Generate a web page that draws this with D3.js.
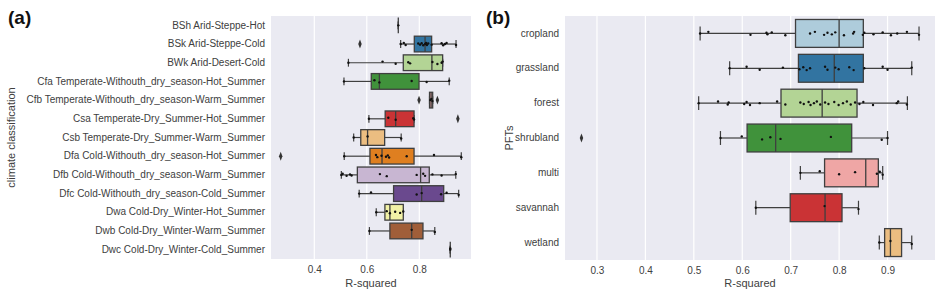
<!DOCTYPE html>
<html>
<head>
<meta charset="utf-8">
<script src="https://cdn.jsdelivr.net/npm/d3@7"></script>
<style>
  body { margin: 0; background: #fff; }
  svg { font-family: 'Liberation Sans', Arial, sans-serif; }
</style>
</head>
<body>
<svg id="chart" width="945" height="299"></svg>
<script>
// Panel (a): climate classification
const climateNames = [
  'BSh Arid-Steppe-Hot', 'BSk Arid-Steppe-Cold', 'BWk Arid-Desert-Cold',
  'Cfa Temperate-Withouth_dry_season-Hot_Summer', 'Cfb Temperate-Withouth_dry_season-Warm_Summer',
  'Csa Temperate-Dry_Summer-Hot_Summer', 'Csb Temperate-Dry_Summer-Warm_Summer',
  'Dfa Cold-Withouth_dry_season-Hot_Summer', 'Dfb Cold-Withouth_dry_season-Warm_Summer',
  'Dfc Cold-Withouth_dry_season-Cold_Summer', 'Dwa Cold-Dry_Winter-Hot_Summer',
  'Dwb Cold-Dry_Winter-Warm_Summer', 'Dwc Cold-Dry_Winter-Cold_Summer'
];
const climateQ1 = [0.72, 0.781, 0.739, 0.617, 0.839, 0.67, 0.577, 0.612, 0.564, 0.702, 0.669, 0.688, 0.918];
const climateMedian = [0.72, 0.822, 0.848, 0.648, 0.845, 0.71, 0.603, 0.658, 0.805, 0.809, 0.688, 0.771, 0.918];
const climateQ3 = [0.72, 0.847, 0.889, 0.799, 0.851, 0.78, 0.668, 0.78, 0.838, 0.893, 0.739, 0.814, 0.918];
const climateLo = [0.72, 0.729, 0.53, 0.513, 0.839, 0.608, 0.55, 0.514, 0.503, 0.571, 0.636, 0.61, 0.918];
const climateHi = [0.72, 0.94, 0.889, 0.914, 0.851, 0.78, 0.731, 0.96, 0.939, 0.95, 0.739, 0.859, 0.918];
const climateOutliers = [[], [0.574], [], [], [0.799, 0.869], [0.947], [], [0.272], [], [], [], [], []];
const climatePoints = [
  [0.72],
  [0.729, 0.741, 0.748, 0.796, 0.803, 0.809, 0.815, 0.822, 0.826, 0.829, 0.834, 0.847, 0.885, 0.891, 0.898, 0.904, 0.94],
  [0.53, 0.66, 0.71, 0.758, 0.765, 0.85, 0.869, 0.885, 0.889],
  [0.513, 0.629, 0.648, 0.771, 0.828, 0.914],
  [0.842, 0.846, 0.85],
  [0.608, 0.682, 0.71, 0.777, 0.78],
  [0.55, 0.603, 0.731],
  [0.514, 0.635, 0.64, 0.656, 0.673, 0.68, 0.685, 0.752, 0.856, 0.96],
  [0.503, 0.508, 0.523, 0.536, 0.542, 0.65, 0.676, 0.79, 0.815, 0.822, 0.85, 0.885, 0.939],
  [0.571, 0.616, 0.79, 0.809, 0.883, 0.904, 0.95],
  [0.636, 0.676, 0.688, 0.708, 0.727, 0.739],
  [0.61, 0.771, 0.859],
  [0.918, 0.918]
];
const climateTicks = [0.4, 0.6, 0.8];

// Panel (b): PFTs
const pftNames = ['cropland', 'grassland', 'forest', 'shrubland', 'multi', 'savannah', 'wetland'];
const pftQ1 = [0.71, 0.716, 0.68, 0.61, 0.77, 0.699, 0.894];
const pftMedian = [0.80, 0.79, 0.765, 0.669, 0.855, 0.771, 0.906];
const pftQ3 = [0.85, 0.85, 0.837, 0.826, 0.881, 0.806, 0.929];
const pftLo = [0.513, 0.574, 0.51, 0.555, 0.72, 0.628, 0.883];
const pftHi = [0.965, 0.95, 0.941, 0.90, 0.89, 0.84, 0.95];
const pftOutliers = [[], [], [], [0.268], [], [], []];
const pftPoints = [
  [0.513, 0.53, 0.617, 0.65, 0.652, 0.661, 0.689, 0.74, 0.75, 0.769, 0.776, 0.785, 0.792, 0.81, 0.829, 0.831, 0.849, 0.852, 0.871, 0.89, 0.907, 0.92, 0.94, 0.965],
  [0.574, 0.609, 0.636, 0.684, 0.718, 0.726, 0.733, 0.74, 0.771, 0.776, 0.792, 0.799, 0.821, 0.83, 0.852, 0.89, 0.9, 0.95],
  [0.51, 0.55, 0.57, 0.572, 0.604, 0.609, 0.616, 0.636, 0.672, 0.689, 0.72, 0.727, 0.737, 0.741, 0.748, 0.754, 0.761, 0.771, 0.778, 0.79, 0.799, 0.808, 0.816, 0.824, 0.833, 0.842, 0.85, 0.87, 0.919, 0.922, 0.94],
  [0.555, 0.599, 0.641, 0.658, 0.679, 0.783, 0.888, 0.9],
  [0.72, 0.76, 0.8, 0.833, 0.878, 0.884, 0.89],
  [0.628, 0.77, 0.84],
  [0.883, 0.906, 0.95]
];
const pftTicks = [0.3, 0.4, 0.5, 0.6, 0.7, 0.8, 0.9];

// Paired palette, desaturated like seaborn boxplot
const paired = ['#a6cee3', '#1f78b4', '#b2df8a', '#33a02c', '#fb9a99', '#e31a1c',
  '#fdbf6f', '#ff7f00', '#cab2d6', '#6a3d9a', '#ffff99', '#b15928'];
function desat(c) {
  const h = d3.hsl(c);
  h.s *= 0.75;
  return h.formatHex();
}

const svg = d3.select('#chart');
const lineColor = '#3f3f3f';
const jitter = [0, -1.6, 1.4, -0.7, 0.9, -1.1, 1.8];

function drawPanel(opt) {
  const x = d3.scaleLinear().domain(opt.domain).range([opt.left, opt.right]);
  const y = d3.scaleBand().domain(opt.names).range([opt.top, opt.bottom]);
  const g = svg.append('g');
  const bw = y.bandwidth() * opt.boxFrac;
  const capH = bw * 0.5;

  // Background
  g.append('rect')
    .attr('x', opt.left).attr('y', opt.top)
    .attr('width', opt.right - opt.left).attr('height', opt.bottom - opt.top)
    .attr('fill', '#eaeaf2');

  // Grid
  g.selectAll('.grid')
    .data(opt.ticks)
    .enter()
    .append('line')
    .attr('x1', (d) => x(d)).attr('x2', (d) => x(d))
    .attr('y1', opt.top).attr('y2', opt.bottom)
    .attr('stroke', '#fff').attr('stroke-width', 1.2);

  // X axis
  const xAxis = g.append('g')
    .attr('transform', `translate(0,${opt.bottom})`)
    .call(d3.axisBottom(x).tickValues(opt.ticks).tickSize(0).tickPadding(7).tickFormat(d3.format('.1f')));
  xAxis.select('.domain').remove();
  xAxis.selectAll('text').attr('font-size', 10).attr('fill', '#404040').attr('font-family', null);

  // Y axis
  const yAxis = g.append('g')
    .attr('transform', `translate(${opt.left},0)`)
    .call(d3.axisLeft(y).tickSize(0).tickPadding(6));
  yAxis.select('.domain').remove();
  yAxis.selectAll('text').attr('font-size', 10).attr('fill', '#404040').attr('font-family', null);

  // Axis titles
  g.append('text')
    .attr('x', (opt.left + opt.right) / 2).attr('y', 287)
    .attr('text-anchor', 'middle').attr('font-size', 11).attr('fill', '#404040')
    .text('R-squared');
  g.append('text')
    .attr('transform', `translate(${opt.yTitleX},${(opt.top + opt.bottom) / 2}) rotate(-90)`)
    .attr('text-anchor', 'middle').attr('font-size', 11).attr('fill', '#404040')
    .text(opt.yTitle);

  // Panel letter
  g.append('text')
    .attr('x', opt.letterX).attr('y', 24)
    .attr('font-size', 19).attr('font-weight', 'bold').attr('fill', '#111')
    .text(opt.letter);

  // Boxes
  opt.names.forEach((name, i) => {
    const cy = y(name) + y.bandwidth() / 2;
    const row = g.append('g');
    // whiskers
    row.append('line')
      .attr('x1', x(opt.lo[i])).attr('x2', x(opt.q1[i]))
      .attr('y1', cy).attr('y2', cy)
      .attr('stroke', lineColor).attr('stroke-width', 1.2);
    row.append('line')
      .attr('x1', x(opt.q3[i])).attr('x2', x(opt.hi[i]))
      .attr('y1', cy).attr('y2', cy)
      .attr('stroke', lineColor).attr('stroke-width', 1.2);
    // caps
    [opt.lo[i], opt.hi[i]].forEach((v) => {
      row.append('line')
        .attr('x1', x(v)).attr('x2', x(v))
        .attr('y1', cy - capH / 2).attr('y2', cy + capH / 2)
        .attr('stroke', lineColor).attr('stroke-width', 1.2);
    });
    // box
    row.append('rect')
      .attr('x', x(opt.q1[i])).attr('y', cy - bw / 2)
      .attr('width', x(opt.q3[i]) - x(opt.q1[i])).attr('height', bw)
      .attr('fill', desat(paired[i % paired.length]))
      .attr('stroke', lineColor).attr('stroke-width', 1.3);
    // median
    row.append('line')
      .attr('x1', x(opt.median[i])).attr('x2', x(opt.median[i]))
      .attr('y1', cy - bw / 2).attr('y2', cy + bw / 2)
      .attr('stroke', lineColor).attr('stroke-width', 1.3);
    // outliers
    row.selectAll('.out')
      .data(opt.outliers[i])
      .enter()
      .append('path')
      .attr('d', d3.symbol().type(d3.symbolDiamond).size(16))
      .attr('transform', (d) => `translate(${x(d)},${cy}) scale(0.8,1.2)`)
      .attr('fill', '#333');
    // strip points
    row.selectAll('.pt')
      .data(opt.points[i])
      .enter()
      .append('circle')
      .attr('cx', (d) => x(d))
      .attr('cy', (d, j) => cy + jitter[j % jitter.length] * opt.jitterScale)
      .attr('r', 1.2)
      .attr('fill', '#111');
  });
}

drawPanel({
  names: climateNames, q1: climateQ1, median: climateMedian, q3: climateQ3,
  lo: climateLo, hi: climateHi, outliers: climateOutliers, points: climatePoints,
  ticks: climateTicks, domain: [0.235, 0.997],
  left: 271, right: 471, top: 16, bottom: 259, boxFrac: 0.84, jitterScale: 0.7,
  yTitle: 'climate classification', yTitleX: 15, letter: '(a)', letterX: 8
});

drawPanel({
  names: pftNames, q1: pftQ1, median: pftMedian, q3: pftQ3,
  lo: pftLo, hi: pftHi, outliers: pftOutliers, points: pftPoints,
  ticks: pftTicks, domain: [0.234, 0.998],
  left: 565, right: 935, top: 16, bottom: 260, boxFrac: 0.8, jitterScale: 1,
  yTitle: 'PFTs', yTitleX: 513, letter: '(b)', letterX: 486
});
</script>
</body>
</html>
